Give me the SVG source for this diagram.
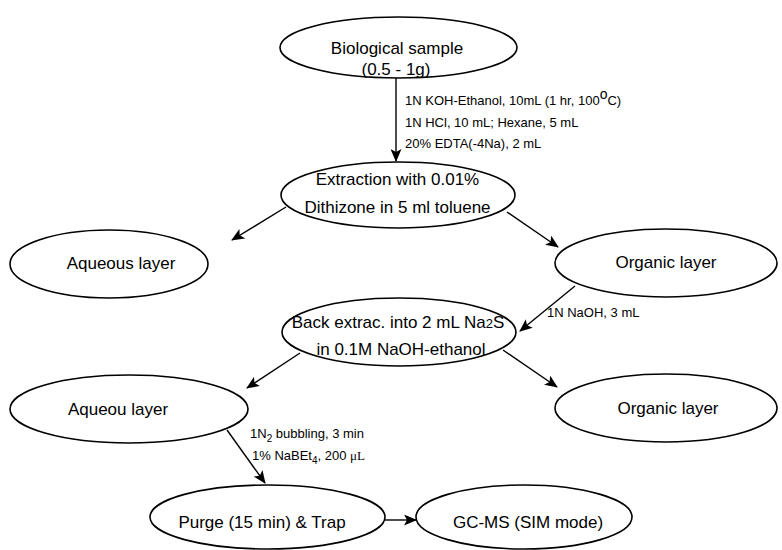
<svg xmlns="http://www.w3.org/2000/svg" width="782" height="550" viewBox="0 0 782 550">
<defs>
<style>
.n{fill:#fff;stroke:#000;stroke-width:1.6}
.t{font-family:"Liberation Sans",Arial,sans-serif;font-size:17px;fill:#000;text-anchor:middle}
.l{font-family:"Liberation Sans",Arial,sans-serif;font-size:13px;fill:#000}
.c{stroke:#000;stroke-width:1.4;fill:none;marker-end:url(#ah)}
</style>
<marker id="ah" markerWidth="13" markerHeight="11" refX="12" refY="5.5" orient="auto" markerUnits="userSpaceOnUse">
<path d="M0,0 L13,5.5 L0,11 L3,5.5 z" fill="#000"/>
</marker>
</defs>
<rect width="782" height="550" fill="#fff"/>
<g id="connectors">
<line class="c" x1="396" y1="78" x2="396" y2="161"/>
<line class="c" x1="286" y1="207" x2="232" y2="240"/>
<line class="c" x1="507" y1="212" x2="558" y2="247"/>
<line class="c" x1="575" y1="286" x2="520" y2="331"/>
<line class="c" x1="300" y1="353" x2="247" y2="388"/>
<line class="c" x1="503" y1="350" x2="557" y2="387"/>
<line class="c" x1="227" y1="430" x2="265" y2="483"/>
<line class="c" x1="385" y1="520" x2="416" y2="520"/>
<text class="l" x="405" y="105">1N KOH-Ethanol, 10mL (1 hr, 100<tspan dy="-6" font-size="14">o</tspan><tspan dy="6">C)</tspan></text>
<text class="l" x="405" y="127">1N HCl, 10 mL; Hexane, 5 mL</text>
<text class="l" x="405" y="148">20% EDTA(-4Na), 2 mL</text>
<text class="l" x="547" y="317">1N NaOH, 3 mL</text>
<text class="l" x="250" y="438">1N<tspan dy="4" font-size="10">2</tspan><tspan dy="-4"> bubbling, 3 min</tspan></text>
<text class="l" x="252" y="460">1% NaBEt<tspan dy="4" font-size="10">4</tspan><tspan dy="-4">, 200 </tspan><tspan font-family="'Liberation Serif',serif">μL</tspan></text>
</g>
<g id="n1">
<ellipse class="n" cx="398.5" cy="47.5" rx="118.5" ry="30.5"/>
<text class="t" x="397" y="54" font-size="18">Biological sample</text>
<text class="t" x="396" y="75" font-size="18">(0.5 - 1g)</text>
</g>
<g id="n2">
<ellipse class="n" cx="398" cy="195" rx="117" ry="33"/>
<text class="t" x="397.5" y="185">Extraction with 0.01%</text>
<text class="t" x="397.5" y="213">Dithizone in 5 ml toluene</text>
</g>
<g id="n3">
<ellipse class="n" cx="109" cy="264" rx="99" ry="34"/>
<text class="t" x="121" y="269">Aqueous layer</text>
</g>
<g id="n4">
<ellipse class="n" cx="666" cy="263" rx="111" ry="34"/>
<text class="t" x="666" y="268">Organic layer</text>
</g>
<g id="n5">
<ellipse class="n" cx="399" cy="332" rx="117" ry="34"/>
<text class="t" x="398" y="328">Back extrac. into 2 mL Na<tspan font-size="13">2</tspan>S</text>
<text class="t" x="401" y="355">in 0.1M NaOH-ethanol</text>
</g>
<g id="n6">
<ellipse class="n" cx="129" cy="409" rx="119" ry="34"/>
<text class="t" x="118" y="415">Aqueou layer</text>
</g>
<g id="n7">
<ellipse class="n" cx="666" cy="408" rx="111" ry="34"/>
<text class="t" x="668" y="414">Organic layer</text>
</g>
<g id="n8">
<ellipse class="n" cx="267.5" cy="517" rx="117.5" ry="32"/>
<text class="t" x="262" y="528">Purge (15 min) &amp; Trap</text>
</g>
<g id="n9">
<ellipse class="n" cx="524" cy="517" rx="108" ry="32"/>
<text class="t" x="528" y="528">GC-MS (SIM mode)</text>
</g>
</svg>
